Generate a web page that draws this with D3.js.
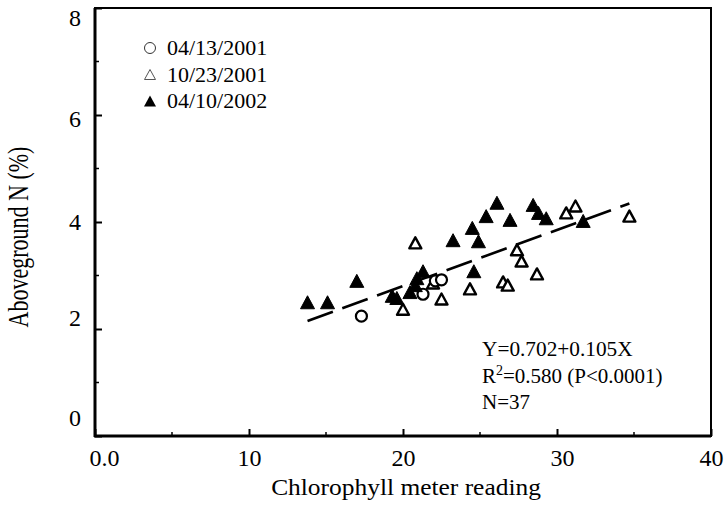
<!DOCTYPE html>
<html><head><meta charset="utf-8">
<script src="https://cdn.jsdelivr.net/npm/d3@7"></script>
<style>body{margin:0;background:#fff}text{font-family:"Liberation Serif","Times New Roman",serif;fill:#000}</style></head>
<body><svg id="c" width="725" height="506"></svg>
<script>
// ---- data ----
const seriesNames = ["04/13/2001", "10/23/2001", "04/10/2002"];
const circleX = [17.3, 21.3, 22.1, 22.5];
const circleY = [2.24, 2.65, 2.90, 2.92];
const openTriX = [20.8, 20.0, 22.5, 21.95, 24.35, 26.5, 26.8, 27.4, 27.7, 28.7, 30.6, 31.2, 34.7];
const openTriY = [3.61, 2.37, 2.56, 2.86, 2.75, 2.88, 2.82, 3.48, 3.27, 3.03, 4.17, 4.30, 4.11];
const fillTriX = [13.8, 15.1, 17.0, 19.3, 19.6, 20.45, 20.8, 20.9, 21.3, 23.25, 24.5, 24.9, 24.6, 25.4, 26.1, 26.95, 28.45, 28.8, 29.3, 31.7];
const fillTriY = [2.50, 2.50, 2.90, 2.62, 2.58, 2.69, 2.82, 2.95, 3.08, 3.66, 3.89, 3.64, 3.08, 4.11, 4.36, 4.04, 4.32, 4.17, 4.07, 4.02];
const fitIntercept = 0.702, fitSlope = 0.105, fitXStart = 13.8, fitXEnd = 34.7;
const xTicks = [0, 10, 20, 30, 40];
const xTickLabels = ["0.0", "10", "20", "30", "40"];
const xMinor = [5, 15, 25, 35];
const yTicks = [0, 2, 4, 6, 8];
const yTickLabels = ["0", "2", "4", "6", "8"];
const yMinor = [1, 3, 5, 7];
const xTitle = "Chlorophyll meter reading";
const yTitle = "Aboveground N (%)";
const eqText = "Y=0.702+0.105X";
const r2Text = ["R", "2", "=0.580 (P<0.0001)"];
const nText = "N=37";

// ---- chart ----
const svg = d3.select("#c");
const x = d3.scaleLinear().domain([0, 40]).range([95, 711]);
const y = d3.scaleLinear().domain([0, 8]).range([436, 8]);

// frame
svg.append("rect").attr("x", x(0)).attr("y", y(8)).attr("width", x(40) - x(0)).attr("height", y(0) - y(8))
  .attr("fill", "none").attr("stroke", "#000").attr("stroke-width", 2);
svg.append("line").attr("x1", x(0)).attr("x2", x(0)).attr("y1", y(8)).attr("y2", y(0) + 1).attr("stroke", "#000").attr("stroke-width", 3);
svg.append("line").attr("x1", x(0) - 1).attr("x2", x(40)).attr("y1", y(0)).attr("y2", y(0)).attr("stroke", "#000").attr("stroke-width", 3);

// x axis
const xAx = svg.append("g").attr("transform", `translate(0,${y(0)})`)
  .call(d3.axisBottom(x).tickValues(xTicks).tickFormat((d, i) => xTickLabels[i]).tickSizeInner(-7).tickSizeOuter(0).tickPadding(13));
xAx.select(".domain").remove();
xAx.selectAll("line").attr("stroke-width", 2);
xAx.selectAll("text").style("font-size", "24px");
xAx.selectAll("text").filter(d => d === 0).attr("dx", 9);
xAx.selectAll("text").filter(d => d === 30).attr("dx", 5);
svg.append("g").selectAll("line").data(xMinor).join("line")
  .attr("x1", d => x(d)).attr("x2", d => x(d)).attr("y1", y(0)).attr("y2", y(0) - 4).attr("stroke", "#000").attr("stroke-width", 1.5);

// y axis
const yAx = svg.append("g").attr("transform", `translate(${x(0)},0)`)
  .call(d3.axisLeft(y).tickValues(yTicks).tickFormat((d, i) => yTickLabels[i]).tickSizeInner(-7).tickSizeOuter(0).tickPadding(14));
yAx.select(".domain").remove();
yAx.selectAll("line").attr("stroke-width", 2);
yAx.selectAll("text").style("font-size", "24px");
const yLabelDy = {0: "-0.43em", 2: "-0.14em", 4: "0.32em", 6: "0.49em", 8: "0.72em"};
yAx.selectAll("text").attr("dy", d => yLabelDy[d]);
svg.append("g").selectAll("line").data(yMinor).join("line")
  .attr("x1", x(0)).attr("x2", x(0) + 4).attr("y1", d => y(d)).attr("y2", d => y(d)).attr("stroke", "#000").attr("stroke-width", 1.5);

// titles
svg.append("text").attr("transform", "translate(406,495) scale(1.06,1)").attr("text-anchor", "middle").style("font-size", "24px").text(xTitle);
svg.append("text").attr("transform", "translate(28,237) rotate(-90) scale(1,1.3)").attr("text-anchor", "middle").style("font-size", "22px").text(yTitle);

// fit line
const fitLine = d3.line().x(d => x(d)).y(d => y(fitIntercept + fitSlope * d));
svg.append("path").attr("d", fitLine([fitXStart, fitXEnd])).attr("fill", "none").attr("stroke", "#000")
  .attr("stroke-width", 2.6).attr("stroke-dasharray", "27,10");

// markers
const tri = (cx, cy, w, h) => `M${cx},${cy - h / 2}L${cx + w / 2},${cy + h / 2}L${cx - w / 2},${cy + h / 2}Z`;
const fills = d3.zip(fillTriX, fillTriY);
const opens = d3.zip(openTriX, openTriY);
const circs = d3.zip(circleX, circleY);
svg.append("g").selectAll("path").data(opens).join("path")
  .attr("d", d => tri(x(d[0]), y(d[1]), 12, 11)).attr("fill", "#fff").attr("stroke", "#000").attr("stroke-width", 2.4).attr("stroke-linejoin", "round");
svg.append("g").selectAll("circle").data(circs).join("circle")
  .attr("cx", d => x(d[0])).attr("cy", d => y(d[1])).attr("r", 5.5).attr("fill", "#fff").attr("stroke", "#000").attr("stroke-width", 2.2);
svg.append("g").selectAll("path").data(fills).join("path")
  .attr("d", d => tri(x(d[0]), y(d[1]), 14, 13)).attr("fill", "#000").attr("stroke", "#000").attr("stroke-width", 1).attr("stroke-linejoin", "round");

// legend
const leg = svg.append("g");
seriesNames.forEach((name, i) => {
  const cy = 48 + i * 26.5;
  if (i === 0) leg.append("circle").attr("cx", 150).attr("cy", cy).attr("r", 5.5).attr("fill", "#fff").attr("stroke", "#333").attr("stroke-width", 1);
  else if (i === 1) leg.append("path").attr("d", tri(150, cy, 11, 10)).attr("fill", "#fff").attr("stroke", "#555").attr("stroke-width", 1);
  else leg.append("path").attr("d", tri(150, cy, 12, 11)).attr("fill", "#000");
  leg.append("text").attr("x", 167).attr("y", cy + 7).style("font-size", "22px").text(name);
});

// annotation
svg.append("text").attr("x", 482).attr("y", 356).style("font-size", "21.3px").text(eqText);
const r2 = svg.append("text").attr("x", 482).attr("y", 383).style("font-size", "21px");
r2.append("tspan").text(r2Text[0]);
r2.append("tspan").attr("dy", -8).style("font-size", "14px").text(r2Text[1]);
r2.append("tspan").attr("dy", 8).text(r2Text[2]);
svg.append("text").attr("x", 482).attr("y", 409).style("font-size", "21px").text(nText);
</script></body></html>
